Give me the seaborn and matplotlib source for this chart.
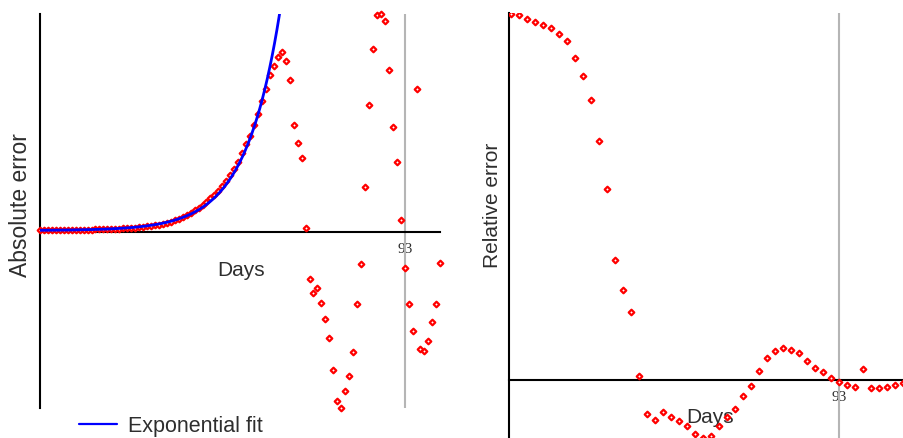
import numpy as np
import pandas as pd
import matplotlib
matplotlib.use("Agg")
import matplotlib.pyplot as plt
import seaborn as sns
from matplotlib.lines import Line2D

# ---------------- data ----------------
abs_days = list(range(1, 103))
abs_error = [
    1.8, 1.8, 1.9, 1.9, 2.0, 2.0, 2.0, 2.1, 2.1, 2.2, 2.3, 2.3, 2.4, 2.5,
    2.6, 2.7, 2.8, 3.0, 3.1, 3.3, 3.5, 3.7, 3.9, 4.2, 4.5, 4.8, 5.2, 5.6,
    6.0, 6.7, 7.3, 8.3, 9.3, 10.3, 11.7, 13.0, 15.0, 17.0, 19.0, 21.7,
    24.0, 27.0, 30.3, 33.7, 37.3, 41.3, 46.3, 51.3, 57.0, 63.3, 70.3, 79.0,
    87.7, 96.3, 107.3, 118.3, 130.7, 143.0, 156.7, 166.3, 175.3, 179.7,
    171.0, 152.0, 106.7, 88.7, 74.3, 3.7, -47.0, -61.3, -55.7, -71.0,
    -87.0, -106.3, -138.0, -168.7, -176.0, -159.3, -144.0, -120.3, -72.3,
    -32.0, 44.7, 127.0, 183.0, 217.3, 218.3, 211.0, 162.0, 104.7, 69.7,
    12.0, -36.3, -72.3, -98.7, 143.0, -117.0, -119.3, -109.3, -90.3,
    -72.3, -30.7,
]

rel_days = list(range(52, 102))
rel_error = [
    366.3, 365.0, 360.7, 358.3, 355.0, 351.7, 345.7, 338.7, 322.3, 303.7,
    280.3, 238.7, 190.7, 120.3, 90.0, 67.7, 3.7, -34.0, -39.7, -32.3,
    -37.3, -41.0, -45.7, -53.7, -57.7, -56.0, -46.0, -37.3, -28.7, -15.7,
    -6.0, 8.7, 22.0, 29.0, 32.0, 29.7, 26.7, 19.0, 11.7, 7.7,
    1.7, -2.3, -5.3, -7.3, 11.3, -8.0, -7.7, -6.7, -5.0, -3.3,
]

# exponential fit parameters (estimated from the drawn curve)
fit_scale = 0.185
fit_rate = 0.115
fit_offset = 1.5
fit_last_day = 62

marker_day = 93
marker_label = "93"
x_label = "Days"
abs_label = "Absolute error"
rel_label = "Relative error"
legend_label = "Exponential fit"

# ---------------- figure ----------------
sns.set_theme(style="white")
plt.rcParams["font.family"] = ["Liberation Sans", "DejaVu Sans"]

W, H = 904, 439
fig = plt.figure(figsize=(W / 100, H / 100), dpi=100, facecolor="white")

ax1 = fig.add_axes([40 / W, (H - 409) / H, 400 / W, 394 / H])
ax2 = fig.add_axes([509 / W, 0.0, 395 / W, 425 / H])

text_color = "#2e2e2e"

abs_df = pd.DataFrame({"day": abs_days, "err": abs_error})
rel_df = pd.DataFrame({"day": rel_days, "err": rel_error})

fit_x = np.linspace(abs_days[0], fit_last_day, 300)
fit_df = pd.DataFrame({"day": fit_x,
                       "err": fit_offset + fit_scale * np.exp(fit_rate * fit_x)})

for ax in (ax1, ax2):
    ax.set_facecolor("white")
    ax.axvline(marker_day, color="#b5b5b5", lw=1.5, zorder=1.5)

marker_kw = dict(marker="D", s=8, color="white", edgecolor="red",
                 linewidth=1.6, zorder=3, legend=False)

sns.scatterplot(data=abs_df, x="day", y="err", ax=ax1, clip_on=False,
                **marker_kw)
sns.lineplot(data=fit_df, x="day", y="err", ax=ax1, color="blue", lw=2.0,
             zorder=4, legend=False)

sns.scatterplot(data=rel_df, x="day", y="err", ax=ax2, **marker_kw)

ax1.set_xlim(1, 101.92)
ax1.set_ylim(-176, 218)
ax2.set_xlim(51.75, 101.125)
ax2.set_ylim(-58, 367)

for ax in (ax1, ax2):
    for s in ("top", "right"):
        ax.spines[s].set_visible(False)
    ax.spines["bottom"].set_position(("data", 0))
    for s in ("left", "bottom"):
        ax.spines[s].set_color("black")
        ax.spines[s].set_linewidth(1.5)
    ax.set_yticks([])
    ax.set_xticks([marker_day], [marker_label])
    ax.tick_params(axis="x", length=0, pad=7, labelsize=11,
                   labelcolor=text_color)
    for lab in ax.get_xticklabels():
        lab.set_fontfamily(["Liberation Serif", "DejaVu Serif"])

# x labels
ax1.set_xlabel(x_label, fontsize=15, color=text_color)
ax1.xaxis.label.set_va("baseline")
ax1.xaxis.set_label_coords(0.503, (409 - 276) / 394)

ax2.set_xlabel(x_label, fontsize=15, color=text_color)
ax2.xaxis.label.set_va("baseline")
ax2.xaxis.set_label_coords(0.509, (439 - 422.7) / 425)

# y labels
ax1.set_ylabel(abs_label, fontsize=16.5, color=text_color)
ax1.yaxis.label.set_va("baseline")
ax1.yaxis.set_label_coords((26.7 - 40) / 400, (409 - 205.5) / 394)

ax2.set_ylabel(rel_label, fontsize=15, color=text_color)
ax2.yaxis.label.set_va("baseline")
ax2.yaxis.set_label_coords((498.3 - 509) / 395, (439 - 205.5) / 425)

# legend
fs_leg = 15.5
em = fs_leg * 100 / 72
handle = Line2D([], [], color="blue", lw=1.6)
fig.legend([handle], [legend_label], loc="center left",
           bbox_to_anchor=(79 / W, (H - 427) / H),
           bbox_transform=fig.transFigure, frameon=False,
           fontsize=fs_leg, labelcolor=text_color, borderpad=0,
           borderaxespad=0, handlelength=38 / em, handletextpad=11 / em)

fig.savefig("out.png", dpi=100, facecolor="white")
